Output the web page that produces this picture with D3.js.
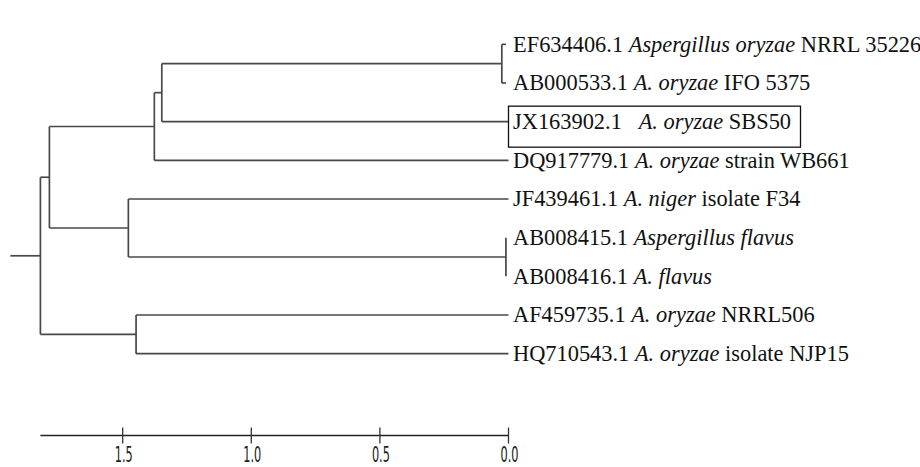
<!DOCTYPE html>
<html lang="en">
<head>
    <meta charset="UTF-8">
    <title>Phylogenetic tree</title>
    <style>
        body {
            margin: 0;
            padding: 0;
            background-color: #fff;
        }
        svg {
            display: block;
        }
        .branch {
            stroke: #484848;
            stroke-width: 1.7;
            fill: none;
        }
        .leaf-label {
            font-family: 'Liberation Serif', 'Times New Roman', serif;
            font-size: 22.4px;
            fill: #111;
        }
        .scale text {
            font-family: 'DejaVu Sans', sans-serif;
            font-size: 18px;
            fill: #222;
        }
    </style>
    <script src="https://d3js.org/d3.v7.min.js"></script>
</head>
<body>
    <div id="chart"></div>

    <script>
        // leaf labels: accession, italic species, trailing text
        var accessions = ['EF634406.1', 'AB000533.1', 'JX163902.1\u00a0\u00a0', 'DQ917779.1', 'JF439461.1',
                          'AB008415.1', 'AB008416.1', 'AF459735.1', 'HQ710543.1'];
        var species = ['Aspergillus oryzae', 'A. oryzae', 'A. oryzae', 'A. oryzae', 'A. niger',
                       'Aspergillus flavus', 'A. flavus', 'A. oryzae', 'A. oryzae'];
        var strains = ['NRRL 35226', 'IFO 5375', 'SBS50', 'strain WB661', 'isolate F34',
                       '', '', 'NRRL506', 'isolate NJP15'];
        // distance of each leaf tip from 0
        var leafHeights = [0.01, 0.01, 0, 0, 0, 0.01, 0.01, 0, 0];
        var highlighted = 'JX163902.1\u00a0\u00a0';

        // internal node heights (distance units)
        var nodeNames = ['root', 'upper', 'oryzaeClade', 'oryzaeSub', 'pairA', 'nigerClade', 'pairB', 'lowerClade'];
        var nodeHeights = [1.82, 1.785, 1.377, 1.348, 0.026, 1.478, 0.01, 1.448];
        var rootStub = 1.937;

        var scaleTicks = [1.5, 1.0, 0.5, 0.0];
        var scaleMax = 1.82;

        var width = 920, height = 467;

        function leaf(i) {
            return { acc: accessions[i], sp: species[i], st: strains[i], h: leafHeights[i] };
        }
        function node(name, children) {
            return { name: name, h: nodeHeights[nodeNames.indexOf(name)], children: children };
        }

        var treeData = node('root', [
            node('upper', [
                node('oryzaeClade', [
                    node('oryzaeSub', [
                        node('pairA', [leaf(0), leaf(1)]),
                        leaf(2)
                    ]),
                    leaf(3)
                ]),
                node('nigerClade', [
                    leaf(4),
                    node('pairB', [leaf(5), leaf(6)])
                ])
            ]),
            node('lowerClade', [leaf(7), leaf(8)])
        ]);

        var x = d3.scaleLinear().domain([0, 1.5]).range([508.5, 122.7]);
        var y = d3.scaleLinear().domain([0, 1]).range([25, 373]);

        var root = d3.hierarchy(treeData);
        d3.cluster().size([1, 1]).separation(function () { return 1; })(root);

        var svg = d3.select('#chart')
            .append('svg')
            .attr('width', width)
            .attr('height', height);

        // horizontal branches
        svg.selectAll('line.h')
            .data(root.descendants().filter(function (d) { return d.parent; }))
            .enter()
            .append('line')
            .attr('class', 'branch')
            .attr('x1', function (d) { return x(d.parent.data.h); })
            .attr('x2', function (d) { return x(d.data.h); })
            .attr('y1', function (d) { return y(d.x); })
            .attr('y2', function (d) { return y(d.x); });

        // vertical connectors
        svg.selectAll('line.v')
            .data(root.descendants().filter(function (d) { return d.children; }))
            .enter()
            .append('line')
            .attr('class', 'branch')
            .attr('x1', function (d) { return x(d.data.h); })
            .attr('x2', function (d) { return x(d.data.h); })
            .attr('y1', function (d) { return y(d.children[0].x); })
            .attr('y2', function (d) { return y(d.children[d.children.length - 1].x); });

        // root stub
        svg.append('line')
            .attr('class', 'branch')
            .attr('x1', x(rootStub))
            .attr('x2', x(root.data.h))
            .attr('y1', y(root.x))
            .attr('y2', y(root.x));

        // leaf labels
        var leaves = root.leaves();
        var labels = svg.selectAll('text.leaf-label')
            .data(leaves)
            .enter()
            .append('text')
            .attr('class', 'leaf-label')
            .attr('x', x(0) + 4.5)
            .attr('y', function (d) { return y(d.x); })
            .attr('dy', '0.33em');
        labels.append('tspan').text(function (d) { return d.data.acc + ' '; });
        labels.append('tspan').attr('font-style', 'italic').text(function (d) { return d.data.sp; });
        labels.append('tspan').text(function (d) { return d.data.st ? ' ' + d.data.st : ''; });

        // box round the new isolate
        var boxed = leaves.filter(function (d) { return d.data.acc === highlighted; })[0];
        svg.append('rect')
            .attr('x', x(0))
            .attr('y', y(boxed.x) - 15.5)
            .attr('width', 292)
            .attr('height', 41)
            .attr('fill', 'none')
            .attr('stroke', '#111')
            .attr('stroke-width', 1.3);

        // scale bar
        var scale = svg.append('g')
            .attr('class', 'scale')
            .attr('transform', 'translate(0,435.5)');
        scale.append('line')
            .attr('x1', x(scaleMax))
            .attr('x2', x(0))
            .attr('stroke', '#222')
            .attr('stroke-width', 1.5);
        var ticks = scale.selectAll('g.tick')
            .data(scaleTicks)
            .enter()
            .append('g')
            .attr('class', 'tick')
            .attr('transform', function (d) { return 'translate(' + x(d) + ',0)'; });
        ticks.append('line')
            .attr('y1', -8)
            .attr('y2', 8)
            .attr('stroke', '#333')
            .attr('stroke-width', 1.3);
        // narrow tall digits: squeeze each label to about 18px wide
        ticks.append('text')
            .attr('text-anchor', 'middle')
            .text(d3.format('.1f'))
            .attr('transform', function () {
                var k = 18 / this.getComputedTextLength();
                return 'translate(1,26) scale(' + k + ',1.2)';
            });
    </script>
</body>
</html>
